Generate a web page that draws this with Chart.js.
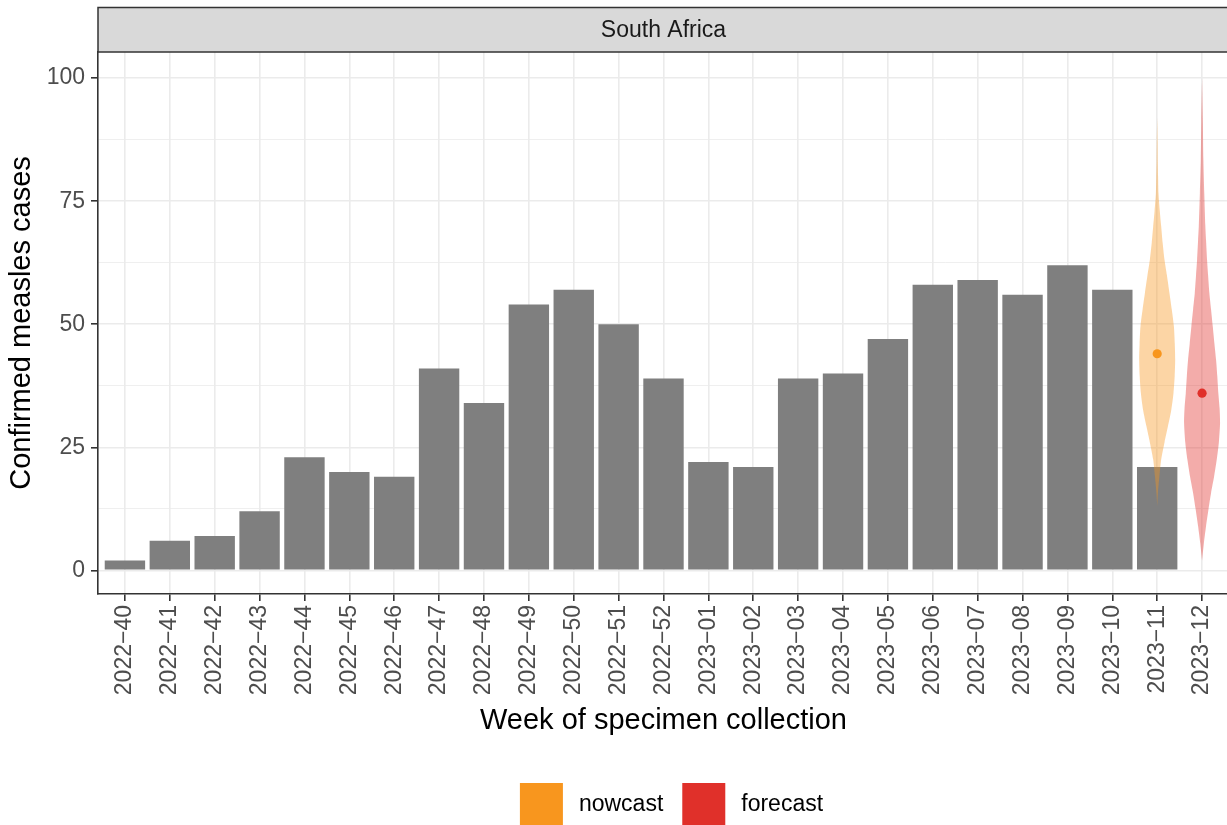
<!DOCTYPE html>
<html><head><meta charset="utf-8">
<script src="https://cdn.jsdelivr.net/npm/chart.js@4/dist/chart.umd.min.js"></script>
<style>html,body{margin:0;padding:0;background:#fff}#wrap{width:1227px;height:825px}</style>
</head><body><div id="wrap"><canvas id="c" width="1227" height="825"></canvas></div>
<script>
// ---- data ----
const weeks = ['2022\u221240','2022\u221241','2022\u221242','2022\u221243','2022\u221244','2022\u221245','2022\u221246','2022\u221247','2022\u221248','2022\u221249','2022\u221250','2022\u221251','2022\u221252','2023\u221201','2023\u221202','2023\u221203','2023\u221204','2023\u221205','2023\u221206','2023\u221207','2023\u221208','2023\u221209','2023\u221210','2023\u221211','2023\u221212'];
const cases = [2,6,7,12,23,20,19,41,34,54,57,50,39,22,21,39,40,47,58,59,56,62,57,21,null];
const yTickLabels = [0,25,50,75,100];
const yMinorGrid = [12.5,37.5,62.5,87.5];
const stripLabel = 'South Africa';
const legendLabels = ['nowcast','forecast'];
const legendColors = ['#F8961E','#E0302A'];

const nowcastWeek = '2023\u221211';
const nowcastMedian = 44;
const nowcastDensityY = [13,15.7,19,22.5,26,29.2,32.5,36,39.5,42.8,46,49.6,53,56.3,60,63.1,66.5,69.9,73,76.6,80,83,87,92];
const nowcastHalfWidth = [0,.016,.049,.089,.163,.238,.312,.363,.390,.401,.392,.372,.325,.274,.216,.163,.122,.089,.058,.029,.020,.013,.009,0];

const forecastWeek = '2023\u221212';
const forecastMedian = 36;
const forecastDensityY = [2,5.5,9,12.5,15.7,19,22.5,26,30,33,36,39.5,42.8,46,49.6,53,56.3,60,63.1,67,69.9,76.6,83.4,91,100];
const forecastHalfWidth = [0,.040,.089,.145,.200,.267,.327,.374,.401,.390,.363,.339,.312,.276,.238,.200,.163,.134,.111,.089,.073,.049,.029,.018,0];

// ---- helpers ----
function violinOutline(week, ys, hws) {
  const c = weeks.indexOf(week);
  const left = ys.map((y, i) => ({x: c - hws[i], y}));
  const right = ys.map((y, i) => ({x: c + hws[i], y})).reverse();
  return left.concat(right);
}
const FONT = "'Liberation Sans', Arial, sans-serif";
Chart.defaults.font.family = FONT;

const panelPlugin = {
  id: 'panelDecor',
  afterLayout(chart) {
    // panel runs slightly past the right edge of the canvas, as in the reference
    const xs = chart.scales.x;
    const target = chart.width + 2;
    chart.chartArea.right = target;
    chart.chartArea.width = target - chart.chartArea.left;
    xs.right = target;
    xs.width = target - xs.left;
    xs.configure();
  },
  afterDraw(chart) {
    const {ctx, chartArea} = chart;
    ctx.save();
    // strip
    const sx = chartArea.left, sy = 7.5, sw = chart.width + 5 - chartArea.left, sh = chartArea.top - 7.5;
    ctx.fillStyle = '#D9D9D9';
    ctx.fillRect(sx, sy, sw, sh);
    ctx.strokeStyle = '#333333';
    ctx.lineWidth = 1.5;
    ctx.strokeRect(sx, sy, sw, sh);
    ctx.fillStyle = '#1A1A1A';
    ctx.font = '23px ' + FONT;
    ctx.textAlign = 'center';
    ctx.textBaseline = 'middle';
    const xs = chart.scales.x;
    const panelCenter = (xs.getPixelForValue(-0.6) + xs.getPixelForValue(24.6)) / 2;
    ctx.fillText(stripLabel, panelCenter, (sy + chartArea.top) / 2 + 1);
    // legend
    ctx.font = '23px ' + FONT;
    ctx.textAlign = 'left';
    const box = 43, gapText = 16, gapItem = 19;
    const widths = legendLabels.map(l => ctx.measureText(l).width);
    const total = legendLabels.length * (box + gapText) + widths.reduce((a, b) => a + b, 0) + gapItem * (legendLabels.length - 1);
    let x = panelCenter + 8 - total / 2;
    const by = 783;
    legendLabels.forEach((l, i) => {
      ctx.fillStyle = legendColors[i];
      ctx.fillRect(x, by, box, box);
      x += box + gapText;
      ctx.fillStyle = '#000000';
      ctx.fillText(l, x, by + box / 2);
      x += widths[i] + gapItem;
    });
    ctx.restore();
  }
};

const isMajor = v => yTickLabels.includes(v);

new Chart(document.getElementById('c'), {
  type: 'bar',
  data: {
    datasets: [
      {
        type: 'line', label: 'nowcast-point',
        data: [{x: weeks.indexOf(nowcastWeek), y: nowcastMedian}],
        showLine: false, pointRadius: 4.6, pointBackgroundColor: legendColors[0], pointBorderWidth: 0, order: 1
      },
      {
        type: 'line', label: 'forecast-point',
        data: [{x: weeks.indexOf(forecastWeek), y: forecastMedian}],
        showLine: false, pointRadius: 4.6, pointBackgroundColor: legendColors[1], pointBorderWidth: 0, order: 1
      },
      {
        type: 'line', label: legendLabels[0],
        data: violinOutline(nowcastWeek, nowcastDensityY, nowcastHalfWidth),
        fill: 'shape', backgroundColor: 'rgba(248,150,30,0.4)', borderColor: 'rgba(0,0,0,0)', borderWidth: 0,
        pointRadius: 0, tension: 0.25, order: 2
      },
      {
        type: 'line', label: legendLabels[1],
        data: violinOutline(forecastWeek, forecastDensityY, forecastHalfWidth),
        fill: 'shape', backgroundColor: 'rgba(224,48,42,0.4)', borderColor: 'rgba(0,0,0,0)', borderWidth: 0,
        pointRadius: 0, tension: 0.25, order: 2
      },
      {
        type: 'bar', label: 'cases',
        data: cases.map((v, i) => ({x: i, y: v})).filter(p => p.y !== null),
        backgroundColor: '#7F7F7F', barPercentage: 0.9, categoryPercentage: 1, order: 3
      }
    ]
  },
  options: {
    responsive: false,
    animation: false,
    devicePixelRatio: 1,
    layout: {padding: {top: 52, left: 0, right: 0, bottom: 87}},
    plugins: {legend: {display: false}, tooltip: {enabled: false}, title: {display: false}},
    scales: {
      x: {
        type: 'linear', min: -0.6, max: 24.6, offset: false,
        afterBuildTicks: s => { s.ticks = weeks.map((w, i) => ({value: i})); },
        afterFit: s => { s.height = 144; s.paddingLeft = 0; s.paddingRight = 0; },
        ticks: {
          autoSkip: false, maxRotation: 90, minRotation: 90, padding: 4,
          color: '#4D4D4D', font: {size: 23},
          callback: v => weeks[Math.round(v)]
        },
        grid: {offset: false, color: '#EBEBEB', lineWidth: 1.6, tickColor: '#333333', tickLength: 7, tickWidth: 1.6},
        border: {display: true, color: '#333333', width: 1.6},
        title: {display: true, text: 'Week of specimen collection', color: '#000000', font: {size: 29}, padding: {top: 0, bottom: 0}}
      },
      y: {
        min: -4.8, max: 105.3,
        afterBuildTicks: s => { s.ticks = yTickLabels.concat(yMinorGrid).sort((a, b) => a - b).map(v => ({value: v})); },
        afterFit: s => { s.width = 98; },
        ticks: {
          color: '#4D4D4D', font: {size: 23}, padding: 6,
          callback: v => (isMajor(v) ? String(v) : '')
        },
        grid: {
          color: '#EBEBEB',
          lineWidth: c => (c.tick && isMajor(c.tick.value) ? 1.6 : 0.8),
          tickColor: c => (c.tick && isMajor(c.tick.value) ? '#333333' : 'rgba(0,0,0,0)'),
          tickLength: 7, tickWidth: 1.6
        },
        border: {display: true, color: '#333333', width: 1.6},
        title: {display: true, text: 'Confirmed measles cases', color: '#000000', font: {size: 29}, padding: {top: 5, bottom: 0}}
      }
    }
  },
  plugins: [panelPlugin]
});
</script>
</body></html>
